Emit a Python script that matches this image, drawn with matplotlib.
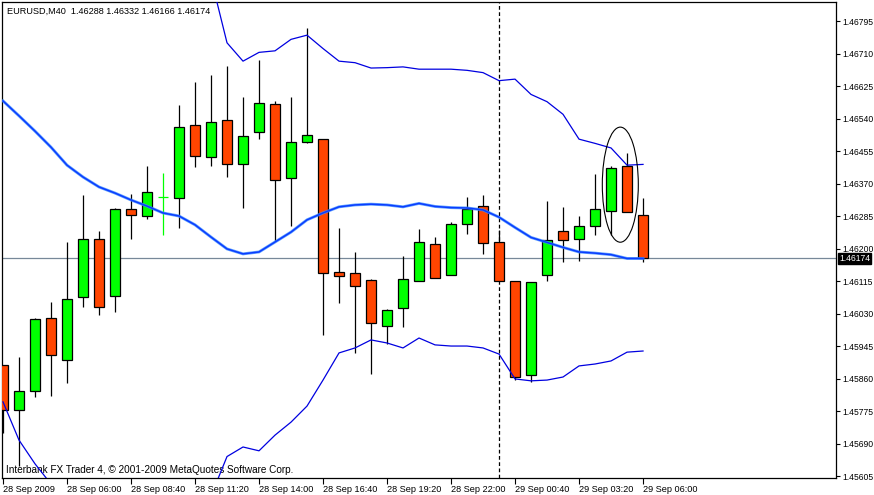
import matplotlib
matplotlib.use('Agg')
import matplotlib.pyplot as plt
from matplotlib.patches import Ellipse
import numpy as np

# EURUSD M40 bars, 28 Sep 2009 03:20 -> 29 Sep 2009 06:00
opens = [1.45895, 1.45778, 1.45827, 1.46018, 1.45909, 1.46073, 1.46225, 1.46076, 1.46303, 1.46285,
         1.46335, 1.46332, 1.46523, 1.46439, 1.46536, 1.46421, 1.46505, 1.46578, 1.46384, 1.46479,
         1.46486, 1.46139, 1.46136, 1.46118, 1.45997, 1.46045, 1.46115, 1.46212, 1.46131, 1.46264,
         1.46311, 1.46217, 1.46115, 1.45869, 1.46131, 1.46246, 1.46225, 1.46259, 1.46298, 1.46416,
         1.46288]
highs = [1.45895, 1.45916, 1.46018, 1.46060, 1.46217, 1.46340, 1.46246, 1.46306, 1.46343, 1.46416,
         1.46398, 1.46575, 1.46635, 1.46654, 1.46677, 1.46596, 1.46693, 1.46586, 1.46596, 1.46777,
         1.46486, 1.46254, 1.46191, 1.46120, 1.46042, 1.46180, 1.46251, 1.46230, 1.46269, 1.46335,
         1.46340, 1.46249, 1.46115, 1.46113, 1.46324, 1.46309, 1.46285, 1.46395, 1.46416, 1.46450,
         1.46332]
lows = [1.45718, 1.45631, 1.45812, 1.45814, 1.45848, 1.46047, 1.46026, 1.46034, 1.46225, 1.46277,
        1.46235, 1.46254, 1.46413, 1.46416, 1.46387, 1.46306, 1.46486, 1.46220, 1.46259, 1.46476,
        1.45974, 1.46058, 1.45927, 1.45872, 1.45950, 1.45995, 1.46115, 1.46123, 1.46131, 1.46238,
        1.46186, 1.46115, 1.45856, 1.45851, 1.46115, 1.46165, 1.46167, 1.46235, 1.46235, 1.46296,
        1.46166]
closes = [1.45778, 1.45827, 1.46016, 1.45922, 1.46068, 1.46225, 1.46047, 1.46303, 1.46288, 1.46348,
          1.46335, 1.46518, 1.46442, 1.46531, 1.46421, 1.46494, 1.46581, 1.46379, 1.46479, 1.46497,
          1.46136, 1.46128, 1.46102, 1.46005, 1.46039, 1.46120, 1.46217, 1.46123, 1.46264, 1.46303,
          1.46215, 1.46115, 1.45864, 1.46113, 1.46222, 1.46222, 1.46259, 1.46303, 1.46411, 1.46296,
          1.46174]

# Bollinger bands
bb_mid = [1.46586, 1.46547, 1.46507, 1.46465, 1.46418, 1.46387, 1.46361, 1.46345, 1.46327, 1.46311,
          1.46293, 1.46285, 1.46262, 1.46230, 1.46199, 1.46186, 1.46191, 1.46217, 1.46243, 1.46275,
          1.46293, 1.46309, 1.46314, 1.46316, 1.46314, 1.46309, 1.46318, 1.46310, 1.46307, 1.46306,
          1.46301, 1.46282, 1.46255, 1.46229, 1.46216, 1.46203, 1.46191, 1.46188, 1.46184, 1.46174,
          1.46174]
bb_upper = [1.47373, 1.47394, 1.47378, 1.47347, 1.47321, 1.47295, 1.47268, 1.47242, 1.47216, 1.47177,
            1.47138, 1.47085, 1.47007, 1.46907, 1.46738, 1.46690, 1.46713, 1.46717, 1.46747, 1.46758,
            1.46723, 1.46690, 1.46686, 1.46672, 1.46673, 1.46675, 1.46669, 1.46669, 1.46669, 1.46666,
            1.46660, 1.46639, 1.46643, 1.46603, 1.46584, 1.46551, 1.46486, 1.46475, 1.46463, 1.46418,
            1.46420]
bb_lower = [1.45799, 1.45699, 1.45637, 1.45584, 1.45516, 1.45480, 1.45453, 1.45448, 1.45438, 1.45446,
            1.45448, 1.45485, 1.45516, 1.45553, 1.45656, 1.45681, 1.45671, 1.45712, 1.45746, 1.45788,
            1.45856, 1.45927, 1.45940, 1.45961, 1.45953, 1.45940, 1.45966, 1.45948, 1.45945, 1.45945,
            1.45940, 1.45924, 1.45859, 1.45854, 1.45856, 1.45864, 1.45893, 1.45898, 1.45906, 1.45929,
            1.45932]

x_tick_bars = [0, 4, 8, 12, 16, 20, 24, 28, 32, 36, 40]
x_tick_labels = ['28 Sep 2009', '28 Sep 06:00', '28 Sep 08:40', '28 Sep 11:20', '28 Sep 14:00',
                 '28 Sep 16:40', '28 Sep 19:20', '28 Sep 22:00', '29 Sep 00:40', '29 Sep 03:20',
                 '29 Sep 06:00']
y_ticks = [1.46795, 1.46710, 1.46625, 1.46540, 1.46455, 1.46370, 1.46285, 1.46200, 1.46115,
           1.46030, 1.45945, 1.45860, 1.45775, 1.45690, 1.45605]

last_price = 1.46174
separator_bar = 31
title = 'EURUSD,M40  1.46288 1.46332 1.46166 1.46174'
copyright_text = 'Interbank FX Trader 4, \u00a9 2001-2009 MetaQuotes Software Corp.'

# hand-drawn ellipse around bars 38-39
ellipse_center = (38.58, 1.46367)
ellipse_size = (2.25, 0.00301)

plt.rcParams['font.family'] = ['Liberation Sans', 'DejaVu Sans']
FS = 6.6
YFS = 6.2
BULL = '#00ff00'
BEAR = '#ff4500'

fig = plt.figure(figsize=(8.74, 4.95), dpi=100)
ax = fig.add_axes([2 / 874, 17 / 495, 834 / 874, 476 / 495])

x = np.arange(len(opens))
o = np.array(opens)
h = np.array(highs)
l = np.array(lows)
c = np.array(closes)

ax.axhline(last_price, color='#778899', lw=0.9, zorder=1)
ax.axvline(separator_bar, color='black', lw=0.9, linestyle=(0, (3, 2)), zorder=1)

doji = o == c
wick_colors = [BULL if d else 'black' for d in doji]
ax.vlines(x, l, h, colors=wick_colors, lw=0.9, zorder=2)

up = (c > o)
down = (c < o)
ax.bar(x[up], (c - o)[up], bottom=o[up], width=0.64, color=BULL,
       edgecolor='black', linewidth=0.9, zorder=3)
ax.bar(x[down], (o - c)[down], bottom=c[down], width=0.64, color=BEAR,
       edgecolor='black', linewidth=0.9, zorder=3)
ax.hlines(o[doji], x[doji] - 0.32, x[doji] + 0.32, colors=BULL, lw=0.9, zorder=3)

ax.plot(x, bb_upper, color='#0000e0', lw=0.9, zorder=4)
ax.plot(x, bb_lower, color='#0000e0', lw=0.9, zorder=4)
ax.plot(x, bb_mid, color='#3a8cff', lw=2.1, zorder=4, alpha=0.8)
ax.plot(x, bb_mid, color='#0a3cff', lw=1.1, zorder=4)

ax.add_patch(Ellipse(ellipse_center, ellipse_size[0], ellipse_size[1],
                     fill=False, edgecolor='black', lw=0.8, zorder=5))

ax.set_xlim(-0.0625, 52.06)
ax.set_ylim(1.455999, 1.468447)

ax.yaxis.tick_right()
ax.set_yticks(y_ticks)
ax.set_yticklabels(['%.5f' % v for v in y_ticks])
ax.tick_params(axis='y', direction='out', length=3, width=0.8, pad=1.5, labelsize=YFS)

ax.set_xticks(x_tick_bars)
ax.set_xticklabels(x_tick_labels, ha='left')
ax.tick_params(axis='x', direction='out', length=4, width=0.8, pad=1, labelsize=FS)
for lbl in ax.get_xticklabels():
    lbl.set_horizontalalignment('left')

for s in ax.spines.values():
    s.set_linewidth(0.9)
    s.set_color('black')

ax.annotate('%.5f' % last_price, xy=(1, last_price), xycoords=('axes fraction', 'data'),
            xytext=(2.2, 0), textcoords='offset points', ha='left', va='center',
            fontsize=YFS, color='white', zorder=10, annotation_clip=False,
            bbox=dict(boxstyle='square,pad=0.1', fc='black', ec='black'))

fig.text(7 / 874, 1 - 11 / 495, title, fontsize=FS, va='center', ha='left')
ax.text(4 / 834, 8 / 476, copyright_text, transform=ax.transAxes, fontsize=7.2,
        va='center', ha='left')

fig.savefig('out.png', dpi=100)
